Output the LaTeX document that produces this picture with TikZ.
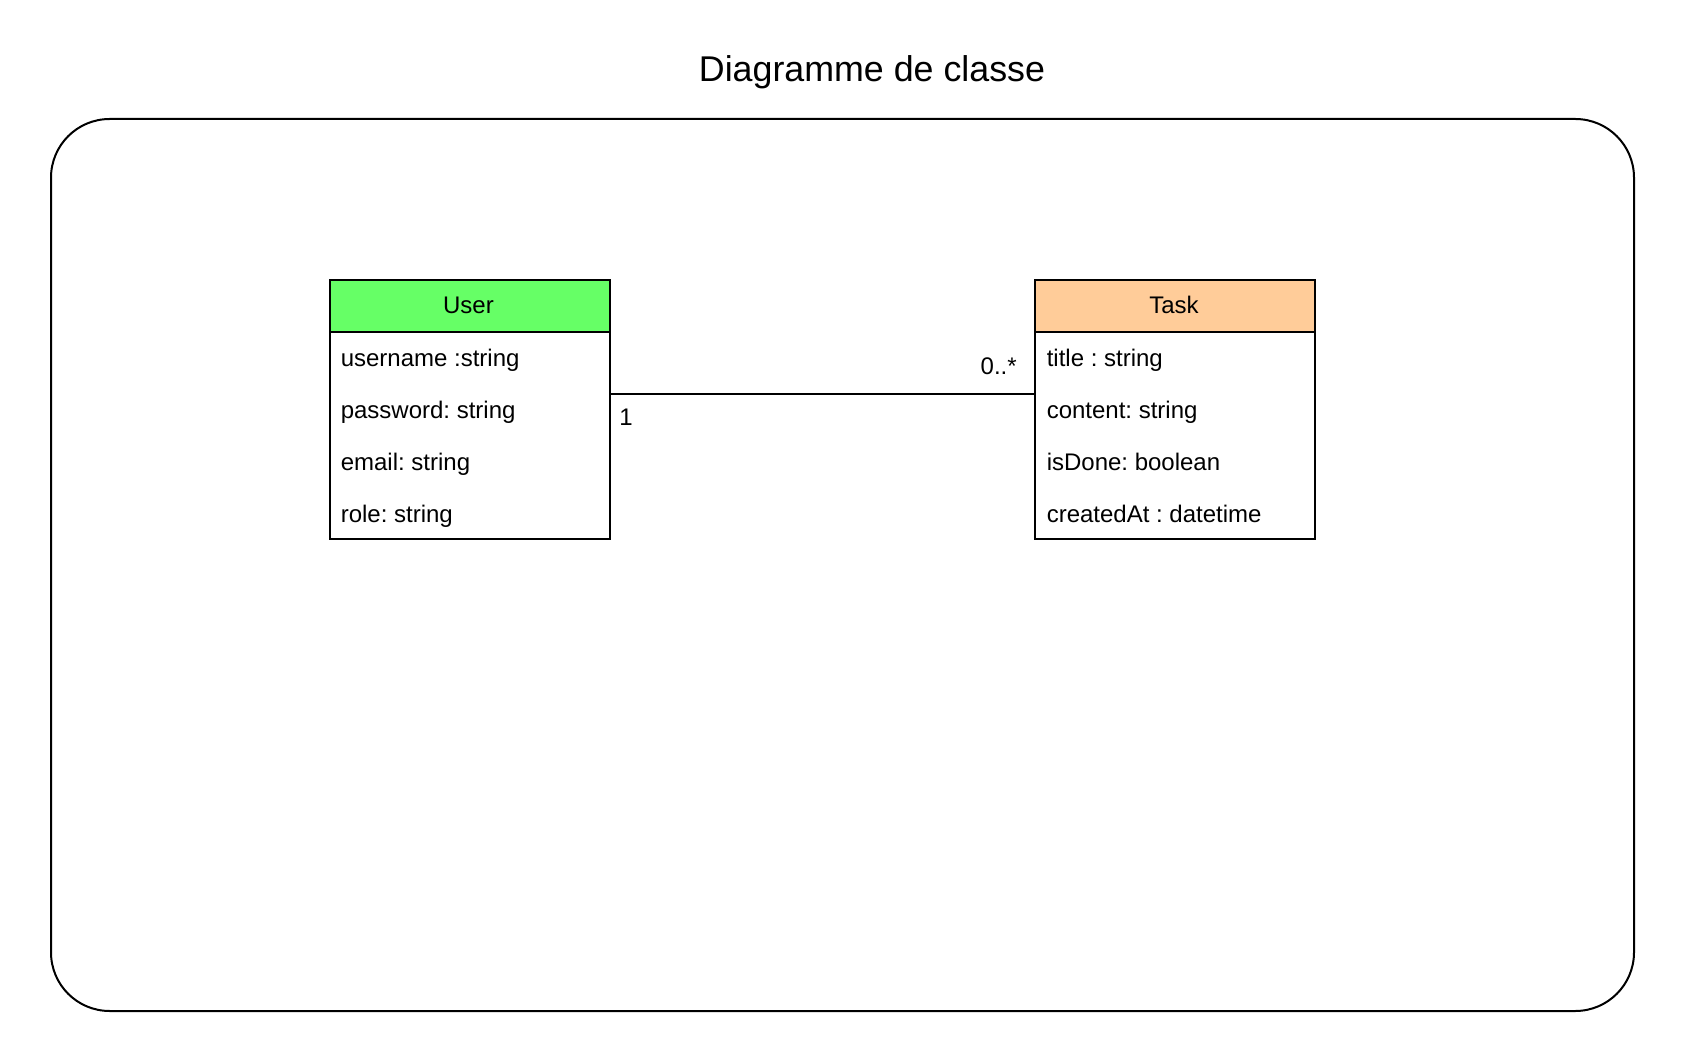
\documentclass[tikz,border=0pt]{standalone}
\usepackage{fontspec}
\setmainfont{Liberation Sans}
\frenchspacing
\definecolor{usergreen}{HTML}{66FF66}
\definecolor{taskorange}{HTML}{FFCC99}
\begin{document}
\begin{tikzpicture}[x=0.75pt,y=-0.75pt,
  frame/.style={draw=black,line width=1.5pt,rounded corners=44pt},
  classhead/.style={draw=black,line width=1.5pt,anchor=north west,minimum width=210pt,minimum height=38.8pt,inner sep=0pt},
  classbody/.style={draw=black,line width=1.5pt,anchor=north west,minimum width=210pt,minimum height=155.5pt,inner sep=0pt},
  attr/.style={anchor=base west,inner sep=0pt,font=\fontsize{18}{21}\selectfont},
  headtext/.style={anchor=base,inner sep=0pt,font=\fontsize{18}{21}\selectfont},
  mult/.style={inner sep=0pt,font=\fontsize{18}{21}\selectfont},
  assoc/.style={draw=black,line width=1.5pt}]
\useasboundingbox (0,0) rectangle (1686,1062);
\draw[frame] (51,119) rectangle (1634,1011);
\node[anchor=base,inner sep=0pt,font=\fontsize{26.85}{32}\selectfont] (title) at (872,81.7) {Diagramme de classe};
% User class
\node[classhead,fill=usergreen] (userh) at (328.5,279) {};
\node[classbody] (userb) at (328.5,330.7) {};
\node[headtext] (userl) at (468.5,314) {User};
\node[attr] (u1) at (340.5,366.7) {username :string};
\node[attr] (u2) at (340.5,418.7) {password: string};
\node[attr] (u3) at (340.5,470.7) {email: string};
\node[attr] (u4) at (340.5,522.7) {role: string};
% Task class
\node[classhead,fill=taskorange] (taskh) at (1034,279) {};
\node[classbody] (taskb) at (1034,330.7) {};
\node[headtext] (taskl) at (1174,314) {Task};
\node[attr] (t1) at (1046.5,366.7) {title : string};
\node[attr] (t2) at (1046.5,418.7) {content: string};
\node[attr] (t3) at (1046.5,470.7) {isDone: boolean};
\node[attr] (t4) at (1046.5,522.7) {createdAt : datetime};
% association
\draw[assoc] ([yshift=31.2pt]userb.east) -- ([yshift=31.2pt]taskb.west);
\node[mult,anchor=base west] (m1) at (619,425.7) {1};
\node[mult,anchor=base east] (m2) at (1017,375) {0..*};
\end{tikzpicture}
\end{document}
